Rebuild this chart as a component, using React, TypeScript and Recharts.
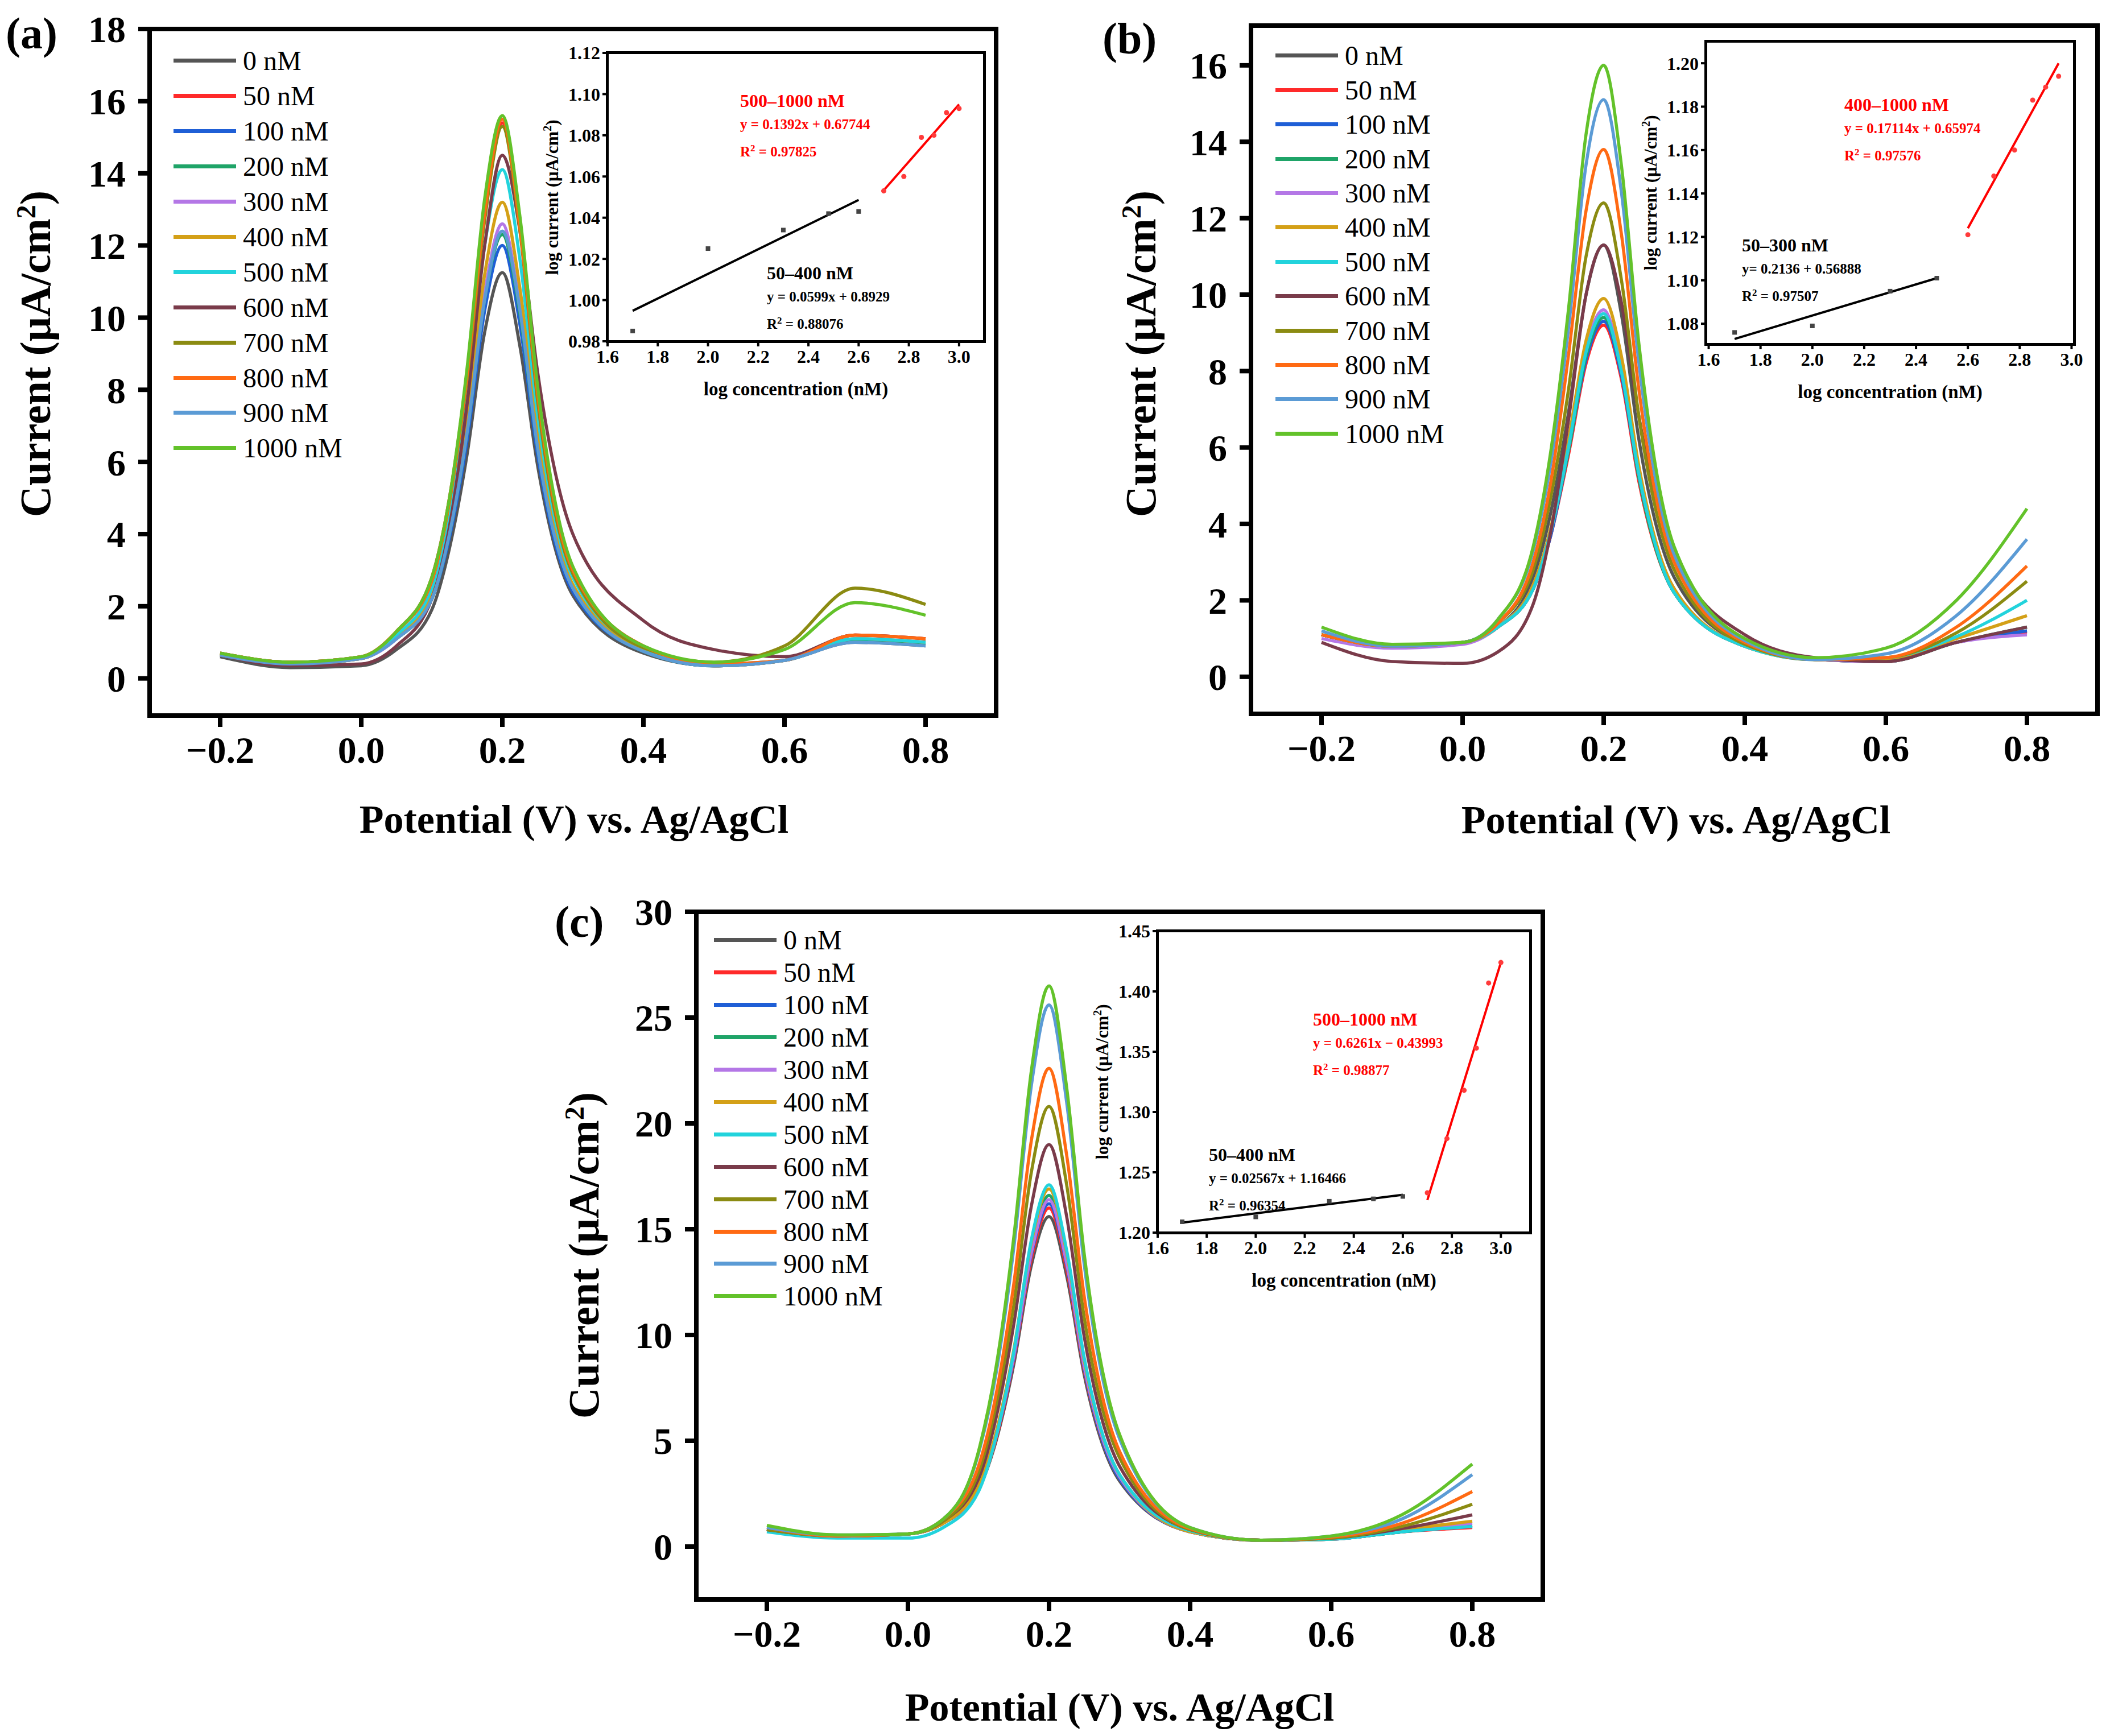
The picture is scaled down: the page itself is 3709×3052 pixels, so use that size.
import React from 'react';
import { LineChart, Line, XAxis, YAxis, ComposedChart, Scatter } from 'recharts';

const potentials = [-0.2, -0.1, 0, 0.05, 0.1, 0.125, 0.15, 0.175, 0.2, 0.225, 0.25, 0.3, 0.4, 0.5, 0.6, 0.7, 0.8];
const concLabels = ['0 nM', '50 nM', '100 nM', '200 nM', '300 nM', '400 nM', '500 nM', '600 nM', '700 nM', '800 nM', '900 nM', '1000 nM'];
const colors = ['#555555', '#ff2a2a', '#1f5fd6', '#1fa468', '#b477e6', '#d4a017', '#22d3dc', '#7a3b4a', '#8b8b12', '#ff6a13', '#5b9bd5', '#63c22a'];

const curvesA = [
  [0.6, 0.3, 0.35, 0.8, 1.9, 3.6, 6.2, 9.6, 11.25, 9.2, 5.9, 2.3, 0.7, 0.35, 0.5, 1.0, 0.9],
  [0.7, 0.45, 0.6, 1.3, 2.8, 5.0, 8.5, 13.1, 15.4, 12.6, 8.0, 3.0, 0.9, 0.4, 0.5, 1.2, 1.1],
  [0.65, 0.4, 0.55, 1.1, 2.2, 3.9, 6.6, 10.2, 12.0, 9.8, 6.2, 2.4, 0.75, 0.35, 0.5, 1.05, 0.95],
  [0.65, 0.4, 0.55, 1.1, 2.2, 4.0, 6.8, 10.5, 12.3, 10.1, 6.4, 2.5, 0.75, 0.35, 0.5, 1.05, 0.95],
  [0.65, 0.4, 0.55, 1.1, 2.3, 4.1, 7.0, 10.7, 12.6, 10.3, 6.6, 2.5, 0.8, 0.35, 0.5, 1.1, 1.0],
  [0.65, 0.4, 0.55, 1.15, 2.4, 4.3, 7.3, 11.2, 13.2, 10.8, 6.9, 2.6, 0.8, 0.35, 0.5, 1.1, 1.0],
  [0.7, 0.45, 0.6, 1.2, 2.5, 4.6, 7.8, 12.0, 14.1, 11.6, 7.3, 2.8, 0.85, 0.4, 0.5, 1.1, 1.0],
  [0.65, 0.35, 0.4, 0.9, 2.2, 4.2, 7.6, 12.0, 14.5, 12.4, 8.5, 4.0, 1.6, 0.8, 0.6, 1.2, 1.1],
  [0.7, 0.45, 0.6, 1.3, 2.7, 4.9, 8.3, 12.7, 15.3, 12.4, 7.7, 2.9, 0.85, 0.45, 0.9, 2.5, 2.05],
  [0.7, 0.45, 0.6, 1.3, 2.7, 4.9, 8.4, 12.9, 15.5, 12.5, 7.9, 3.0, 0.9, 0.4, 0.5, 1.2, 1.1],
  [0.65, 0.4, 0.55, 1.1, 2.2, 4.0, 6.8, 10.5, 12.4, 10.2, 6.4, 2.5, 0.75, 0.35, 0.5, 1.0, 0.9],
  [0.7, 0.45, 0.6, 1.3, 2.8, 5.0, 8.6, 13.3, 15.6, 12.8, 8.1, 3.1, 0.9, 0.45, 0.8, 2.1, 1.75],
];

const curvesB = [
  [1.1, 0.8, 0.9, 1.3, 2.6, 4.3, 6.9, 10.0, 11.3, 9.5, 6.2, 2.6, 0.85, 0.45, 0.4, 0.9, 1.2],
  [1.1, 0.8, 0.9, 1.3, 2.3, 3.7, 5.8, 8.2, 9.2, 7.8, 5.1, 2.2, 0.8, 0.45, 0.4, 0.9, 1.15],
  [1.1, 0.8, 0.9, 1.3, 2.3, 3.7, 5.9, 8.3, 9.3, 7.9, 5.2, 2.2, 0.8, 0.45, 0.4, 0.9, 1.2],
  [1.1, 0.8, 0.9, 1.3, 2.3, 3.8, 5.9, 8.4, 9.4, 8.0, 5.2, 2.2, 0.8, 0.45, 0.4, 0.9, 1.3],
  [1.0, 0.75, 0.85, 1.3, 2.4, 3.8, 6.0, 8.6, 9.6, 8.1, 5.3, 2.3, 0.8, 0.45, 0.4, 0.9, 1.1],
  [1.1, 0.8, 0.9, 1.3, 2.4, 3.9, 6.2, 8.8, 9.9, 8.4, 5.5, 2.3, 0.8, 0.45, 0.45, 1.0, 1.6],
  [1.1, 0.8, 0.9, 1.3, 2.3, 3.8, 6.0, 8.5, 9.5, 8.0, 5.3, 2.2, 0.8, 0.45, 0.5, 1.05, 2.0],
  [0.9, 0.4, 0.35, 0.65, 1.9, 3.8, 6.7, 10.0, 11.3, 9.8, 6.8, 3.2, 1.1, 0.5, 0.4, 0.9, 1.3],
  [1.1, 0.8, 0.9, 1.4, 2.8, 4.7, 7.5, 11.0, 12.4, 10.4, 6.8, 2.8, 0.85, 0.45, 0.5, 1.15, 2.5],
  [1.1, 0.8, 0.9, 1.4, 3.0, 5.1, 8.4, 12.2, 13.8, 11.6, 7.5, 3.0, 0.9, 0.45, 0.5, 1.3, 2.9],
  [1.2, 0.8, 0.9, 1.5, 3.3, 5.6, 9.1, 13.4, 15.1, 12.7, 8.2, 3.2, 0.95, 0.45, 0.6, 1.6, 3.6],
  [1.3, 0.85, 0.9, 1.5, 3.4, 5.9, 9.6, 14.2, 16.0, 13.4, 8.7, 3.4, 1.0, 0.5, 0.75, 2.0, 4.4],
];

const curvesC = [
  [0.8, 0.5, 0.6, 1.1, 2.7, 5.0, 8.6, 13.3, 15.6, 12.8, 8.1, 3.1, 0.7, 0.3, 0.35, 0.7, 1.0],
  [0.8, 0.5, 0.6, 1.1, 2.7, 5.1, 8.8, 13.6, 16.0, 13.1, 8.3, 3.2, 0.7, 0.3, 0.35, 0.7, 0.9],
  [0.8, 0.5, 0.6, 1.1, 2.8, 5.2, 8.9, 13.8, 16.2, 13.3, 8.4, 3.2, 0.7, 0.3, 0.35, 0.7, 0.95],
  [0.8, 0.5, 0.6, 1.1, 2.8, 5.3, 9.1, 14.1, 16.6, 13.6, 8.6, 3.3, 0.7, 0.3, 0.35, 0.7, 1.0],
  [0.8, 0.5, 0.6, 1.1, 2.8, 5.2, 9.0, 13.9, 16.4, 13.4, 8.5, 3.3, 0.7, 0.3, 0.35, 0.75, 1.1],
  [0.8, 0.5, 0.6, 1.1, 2.9, 5.4, 9.3, 14.4, 16.9, 13.9, 8.8, 3.4, 0.7, 0.3, 0.35, 0.8, 1.2],
  [0.7, 0.4, 0.4, 0.9, 2.6, 5.2, 9.2, 14.5, 17.1, 14.0, 8.9, 3.4, 0.75, 0.3, 0.35, 0.7, 0.95],
  [0.8, 0.5, 0.6, 1.2, 3.2, 6.1, 10.5, 16.1, 19.0, 15.6, 9.9, 3.8, 0.8, 0.3, 0.4, 0.85, 1.5],
  [0.8, 0.5, 0.6, 1.2, 3.5, 6.7, 11.4, 17.7, 20.8, 17.1, 10.8, 4.2, 0.8, 0.3, 0.4, 0.95, 2.0],
  [0.9, 0.5, 0.6, 1.3, 3.8, 7.2, 12.4, 19.2, 22.6, 18.5, 11.8, 4.5, 0.85, 0.3, 0.45, 1.1, 2.6],
  [0.9, 0.55, 0.6, 1.3, 4.4, 8.2, 14.1, 21.8, 25.6, 21.0, 13.3, 5.1, 0.9, 0.3, 0.5, 1.3, 3.4],
  [1.0, 0.55, 0.6, 1.3, 4.5, 8.5, 14.6, 22.5, 26.5, 21.7, 13.8, 5.3, 0.9, 0.3, 0.5, 1.5, 3.9],
];

const potentialTicks = [-0.2, 0, 0.2, 0.4, 0.6, 0.8];
const logConcTicks = [1.6, 1.8, 2.0, 2.2, 2.4, 2.6, 2.8, 3.0];

// inset points: [log conc, log current]
const insetA = {
  low: [[1.7, 0.985], [2.0, 1.025], [2.3, 1.034], [2.48, 1.042], [2.6, 1.043]],
  lowFit: [[1.7, 0.9948], [2.6, 1.0486]],
  high: [[2.7, 1.053], [2.78, 1.06], [2.85, 1.079], [2.9, 1.08], [2.95, 1.091], [3.0, 1.093]],
  highFit: [[2.7, 1.0533], [3.0, 1.095]],
};
const insetB = {
  low: [[1.7, 1.076], [2.0, 1.079], [2.3, 1.095], [2.48, 1.101]],
  lowFit: [[1.7, 1.073], [2.48, 1.101]],
  high: [[2.6, 1.121], [2.7, 1.148], [2.78, 1.16], [2.85, 1.183], [2.9, 1.189], [2.95, 1.194]],
  highFit: [[2.6, 1.124], [2.95, 1.2]],
};
const insetC = {
  low: [[1.7, 1.209], [2.0, 1.213], [2.3, 1.226], [2.48, 1.228], [2.6, 1.23]],
  lowFit: [[1.7, 1.2083], [2.6, 1.2314]],
  high: [[2.7, 1.233], [2.78, 1.278], [2.85, 1.318], [2.9, 1.353], [2.95, 1.407], [3.0, 1.424]],
  highFit: [[2.7, 1.227], [3.0, 1.424]],
};

const FONT = '"Liberation Serif", "DejaVu Serif", serif';
const pts = (a: number[][]) => a.map(([x, y]) => ({ x, y }));
const fmtPot = (v: number) => (v < 0 ? '\u2212' + Math.abs(v).toFixed(1) : v.toFixed(1));

const M = 240;
const T = 45;

function Panel({ curves, left, top, w, h, yDomain, yTicks, label, legend, yTitle, xTitle }: any) {
  const rows = potentials.map((x, i) => {
    const r: any = { x };
    curves.forEach((c: number[], k: number) => (r['c' + k] = c[i]));
    return r;
  });
  const tickStyle = { fontFamily: FONT, fontSize: 66, fontWeight: 'bold', fill: '#000' };
  return (
    <>
      <div style={{ position: 'absolute', left: left - M, top: top - T }}>
        <LineChart width={w + M + 20} height={h + M + T - 20} data={rows} margin={{ left: 20, top: T, right: 20, bottom: 20 }}>
          <XAxis dataKey="x" type="number" domain={[-0.3, 0.9]} ticks={potentialTicks} tickFormatter={fmtPot}
            height={M - 40} tickSize={20} tickMargin={16} tick={tickStyle} interval={0}
            axisLine={false} tickLine={{ stroke: '#000', strokeWidth: 8 }} allowDataOverflow />
          <YAxis type="number" domain={yDomain} ticks={yTicks} width={M - 20} tickSize={20} tickMargin={22} interval={0}
            tick={tickStyle} axisLine={false} tickLine={{ stroke: '#000', strokeWidth: 8 }} allowDataOverflow />
          {curves.map((_: any, k: number) => (
            <Line key={k} dataKey={'c' + k} type="monotone" stroke={colors[k]} strokeWidth={5.5} dot={false} isAnimationActive={false} />
          ))}
        </LineChart>
      </div>
      <div style={{ position: 'absolute', boxSizing: 'border-box', left: left - 4, top: top - 4, width: w + 8, height: h + 8, border: '8px solid #000', pointerEvents: 'none' }} />
      <div style={{ position: 'absolute', left: legend[0], top: legend[1] - legend[2] / 2 }}>
        {concLabels.map((t, k) => (
          <div key={k} style={{ display: 'flex', alignItems: 'center', height: legend[2], fontFamily: FONT, fontSize: 48 }}>
            <div style={{ width: 110, height: 7, background: colors[k], marginRight: 12 }} />
            {t}
          </div>
        ))}
      </div>
      <div style={{ position: 'absolute', left: yTitle[0], top: yTitle[1], transform: 'translate(-50%,-50%) rotate(-90deg)', whiteSpace: 'nowrap', fontFamily: FONT, fontSize: 76, fontWeight: 'bold' }}>
        Current (μA/cm<sup style={{ fontSize: 48 }}>2</sup>)
      </div>
      <div style={{ position: 'absolute', left: xTitle[0], top: xTitle[1], transform: 'translate(-50%,-50%)', whiteSpace: 'nowrap', fontFamily: FONT, fontSize: 70, fontWeight: 'bold' }}>
        Potential (V) vs. Ag/AgCl
      </div>
      <div style={{ position: 'absolute', left: label[0], top: label[1], transform: 'translateY(-50%)', fontFamily: FONT, fontSize: 78, fontWeight: 'bold' }}>{label[2]}</div>
    </>
  );
}

function Inset({ d, left, top, w, h, xDomain, yDomain, yTicks, notes }: any) {
  const tickStyle = { fontFamily: FONT, fontSize: 32, fontWeight: 'bold', fill: '#000' };
  const IM = 110;
  const IT = 25;
  return (
    <>
      <div style={{ position: 'absolute', left: left, top: top, width: w, height: h, background: '#fff' }} />
      <div style={{ position: 'absolute', left: left - IM, top: top - IT }}>
        <ComposedChart width={w + IM + 40} height={h + 70 + IT} margin={{ left: 10, top: IT, right: 40, bottom: 10 }}>
          <XAxis dataKey="x" type="number" domain={xDomain} ticks={logConcTicks} tickFormatter={(v: number) => v.toFixed(1)}
            height={60} tickSize={9} tickMargin={6} tick={tickStyle} interval={0} axisLine={false}
            tickLine={{ stroke: '#000', strokeWidth: 4 }} allowDataOverflow />
          <YAxis dataKey="y" type="number" domain={yDomain} ticks={yTicks} tickFormatter={(v: number) => v.toFixed(2)}
            width={IM - 10} tickSize={9} tickMargin={4} tick={tickStyle} interval={0} axisLine={false}
            tickLine={{ stroke: '#000', strokeWidth: 4 }} allowDataOverflow />
          <Line data={pts(d.lowFit)} dataKey="y" stroke="#000" strokeWidth={4} dot={false} isAnimationActive={false} />
          <Line data={pts(d.highFit)} dataKey="y" stroke="#ff0000" strokeWidth={4} dot={false} isAnimationActive={false} />
          <Scatter data={pts(d.low)} dataKey="y" fill="#444" shape="square" isAnimationActive={false} />
          <Scatter data={pts(d.high)} dataKey="y" fill="#ff3b3b" shape="circle" isAnimationActive={false} />
        </ComposedChart>
      </div>
      <div style={{ position: 'absolute', boxSizing: 'border-box', left: left - 3, top: top - 3, width: w + 6, height: h + 6, border: '5px solid #000', pointerEvents: 'none' }} />
      <div style={{ position: 'absolute', left: left - 98, top: top + h / 2, transform: 'translate(-50%,-50%) rotate(-90deg)', whiteSpace: 'nowrap', fontFamily: FONT, fontSize: 31, fontWeight: 'bold' }}>
        log current (μA/cm<sup style={{ fontSize: 20 }}>2</sup>)
      </div>
      <div style={{ position: 'absolute', left: left + w / 2, top: top + h + 84, transform: 'translate(-50%,-50%)', whiteSpace: 'nowrap', fontFamily: FONT, fontSize: 33, fontWeight: 'bold' }}>
        log concentration (nM)
      </div>
      {notes.map((n: any, i: number) => (
        <div key={i} style={{ position: 'absolute', left: n.x, top: n.y - 21, fontFamily: FONT, fontWeight: 'bold', color: n.c, lineHeight: '42px' }}>
          <div style={{ fontSize: 32 }}>{n.t[0]}</div>
          <div style={{ fontSize: 25 }}>{n.t[1]}</div>
          <div style={{ fontSize: 25 }}>R<sup style={{ fontSize: 17 }}>2</sup> = {n.t[2]}</div>
        </div>
      ))}
    </>
  );
}

export default function App() {
  return (
    <div style={{ position: 'absolute', left: 0, top: 0, width: 3709, height: 3052, background: '#fff', overflow: 'hidden' }}>
      <Panel curves={curvesA} left={263} top={51} w={1488} h={1207} yDomain={[-1.03, 18]} yTicks={[0, 2, 4, 6, 8, 10, 12, 14, 16, 18]}
        label={[10, 59, '(a)']} legend={[305, 107, 61.9]} yTitle={[62, 622]} xTitle={[1009, 1441]} />
      <Inset d={insetA} left={1068} top={93} w={662} h={507} xDomain={[1.6, 3.1]} yDomain={[0.98, 1.12]}
        yTicks={[0.98, 1.0, 1.02, 1.04, 1.06, 1.08, 1.1, 1.12]}
        notes={[
          { x: 1301, y: 177, c: '#ff0000', t: ['500–1000 nM', 'y = 0.1392x + 0.67744', '0.97825'] },
          { x: 1348, y: 480, c: '#000', t: ['50–400 nM', 'y = 0.0599x + 0.8929', '0.88076'] },
        ]} />
      <Panel curves={curvesB} left={2199} top={45} w={1488} h={1210} yDomain={[-0.97, 17.04]} yTicks={[0, 2, 4, 6, 8, 10, 12, 14, 16]}
        label={[1938, 68, '(b)']} legend={[2242, 98, 60.4]} yTitle={[2005, 622]} xTitle={[2946, 1442]} />
      <Inset d={insetB} left={2999} top={73} w={647} h={532} xDomain={[1.59, 3.01]} yDomain={[1.0706, 1.21]}
        yTicks={[1.08, 1.1, 1.12, 1.14, 1.16, 1.18, 1.2]}
        notes={[
          { x: 3242, y: 184, c: '#ff0000', t: ['400–1000 nM', 'y = 0.17114x + 0.65974', '0.97576'] },
          { x: 3062, y: 431, c: '#000', t: ['50–300 nM', 'y= 0.2136 + 0.56888', '0.97507'] },
        ]} />
      <Panel curves={curvesC} left={1224} top={1603} w={1488} h={1209} yDomain={[-2.5, 30]} yTicks={[0, 5, 10, 15, 20, 25, 30]}
        label={[975, 1621, '(c)']} legend={[1255, 1653, 56.9]} yTitle={[1026, 2207]} xTitle={[1968, 3002]} />
      <Inset d={insetC} left={2035} top={1637} w={655} h={530} xDomain={[1.6, 3.12]} yDomain={[1.2, 1.45]}
        yTicks={[1.2, 1.25, 1.3, 1.35, 1.4, 1.45]}
        notes={[
          { x: 2308, y: 1792, c: '#ff0000', t: ['500–1000 nM', 'y = 0.6261x − 0.43993', '0.98877'] },
          { x: 2125, y: 2030, c: '#000', t: ['50–400 nM', 'y = 0.02567x + 1.16466', '0.96354'] },
        ]} />
    </div>
  );
}
